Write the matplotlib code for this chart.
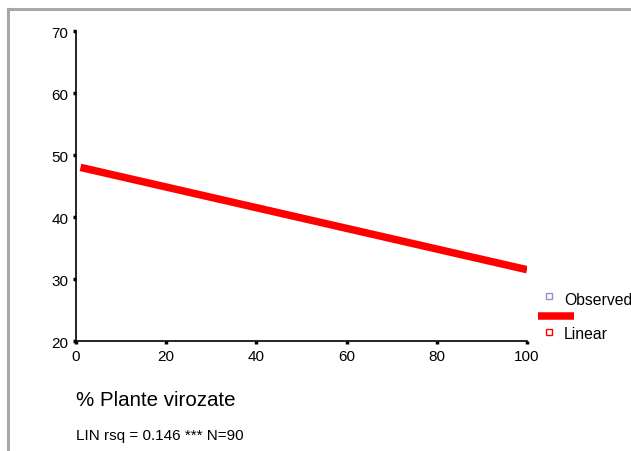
#!/usr/bin/env python3

import matplotlib
matplotlib.use('Agg')
import matplotlib.pyplot as plt
from matplotlib.lines import Line2D

# fitted linear model
pct_virozate = [1, 100]
fitted = [48.0, 31.5]

xticks = [0, 20, 40, 60, 80, 100]
yticks = [20, 30, 40, 50, 60, 70]

xlabel = '% Plante virozate'
footnote = 'LIN rsq = 0.146 *** N=90'
legend_labels = ['Observed', 'Linear']


def main():
    plt.rcParams['font.family'] = ['Liberation Sans', 'DejaVu Sans']
    fig = plt.figure(figsize=(6.31, 4.52), dpi=100)
    ax = fig.add_axes([76 / 631, 110 / 452, 451 / 631, 310 / 452])

    ax.plot(pct_virozate, fitted, color='#ff0000', lw=5.4,
            solid_capstyle='butt')

    ax.set_xlim(0, 100)
    ax.set_ylim(20, 70)
    ax.set_xticks(xticks)
    ax.set_yticks(yticks)
    ax.spines['top'].set_visible(False)
    ax.spines['right'].set_visible(False)
    for s in ('left', 'bottom'):
        ax.spines[s].set_linewidth(1.2)
    ax.tick_params(length=2.5, width=2.5, labelsize=11, pad=3)

    # outer frame (top and left only)
    fx = 8 / 631
    fy = 1 - 10 / 452
    fig.add_artist(Line2D([fx, 1], [fy, fy], transform=fig.transFigure,
                          color='#a8a8a8', lw=2.2))
    fig.add_artist(Line2D([fx, fx], [0, fy], transform=fig.transFigure,
                          color='#a8a8a8', lw=2.2))

    # legend drawn by hand, it is clipped at the right edge
    fig.add_artist(Line2D([549 / 631], [1 - 297 / 452], transform=fig.transFigure,
                          marker='s', ms=4.5, mfc='white', mec='#9090cc',
                          mew=1.0, ls='none'))
    fig.text(564 / 631, 1 - 301 / 452, legend_labels[0], fontsize=11.3,
             va='center', ha='left')
    fig.add_artist(Line2D([538 / 631, 574 / 631], [1 - 317 / 452, 1 - 317 / 452],
                          transform=fig.transFigure, color='#ff0000', lw=5.4,
                          solid_capstyle='butt'))
    fig.add_artist(Line2D([549 / 631], [1 - 333 / 452], transform=fig.transFigure,
                          marker='s', ms=4.5, mfc='white', mec='#ff0000',
                          mew=1.0, ls='none'))
    fig.text(564 / 631, 1 - 335 / 452, legend_labels[1], fontsize=11.3,
             va='center', ha='left')

    fig.text(76 / 631, 1 - 400 / 452, xlabel, fontsize=14.8, va='center',
             ha='left')
    fig.text(76 / 631, 1 - 436 / 452, footnote, fontsize=11, va='center',
             ha='left')

    fig.savefig('out.png', dpi=100)
    plt.close(fig)


if __name__ == '__main__':
    main()
